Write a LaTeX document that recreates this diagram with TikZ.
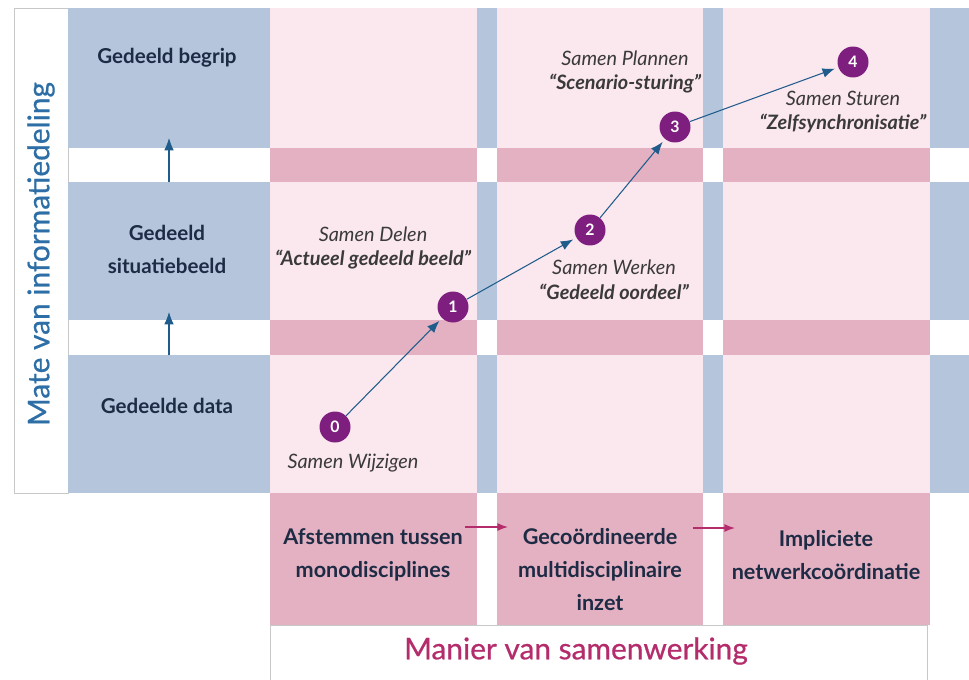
\documentclass[tikz,border=0pt]{standalone}
\usepackage{fontspec}
\setmainfont{Lato}
\newfontfamily\axisfont[FakeBold=0.6]{Lato}
\usetikzlibrary{arrows.meta}

\definecolor{cellblue}{HTML}{B5C6DC}
\definecolor{lightpink}{HTML}{FBE7EE}
\definecolor{darkpink}{HTML}{E3B1C2}
\definecolor{axisblue}{HTML}{2C6EA5}
\definecolor{axisrose}{HTML}{B42C6B}
\definecolor{arrowblue}{HTML}{1F5C8C}
\definecolor{stepviolet}{HTML}{7E1F7F}
\definecolor{labelnavy}{HTML}{1E2B45}
\definecolor{modegray}{HTML}{3A3A3A}
\definecolor{framegray}{HTML}{C8C8C8}

\tikzset{
    bluecell/.style={fill=cellblue, minimum width=4.04cm, inner sep=0pt, outer sep=0pt},
    pinkcell/.style={fill=darkpink, minimum height=2.64cm, inner sep=0pt, outer sep=0pt},
    level/.style={font=\bfseries\fontsize{11.7}{18.8}\selectfont, text=labelnavy, align=center},
    way/.style={font=\bfseries\fontsize{12.3}{18.8}\selectfont, text=labelnavy, align=center},
    mode/.style={font=\itshape\fontsize{11.3}{14}\selectfont, text=modegray, align=center},
    stepdot/.style={circle, fill=stepviolet, minimum size=0.62cm, inner sep=0pt, text=white, font=\bfseries\small},
    climb/.style={draw=arrowblue, line width=0.6pt, -{Latex[length=7pt,width=5.5pt]}, shorten >=2pt},
    push/.style={draw=axisrose, line width=0.8pt, -{Latex[length=6pt,width=4.5pt]}},
}

\begin{document}
\begin{tikzpicture}[x=0.02cm, y=-0.02cm]
    \useasboundingbox (0,0) rectangle (969,679);

    % axis frames
    \draw[framegray, fill=white] (14,8) rectangle (68,493);
    \draw[framegray, fill=white] (270,625) rectangle (927,690);
    \node (mate) [rotate=90, text=axisblue, font=\axisfont\fontsize{17}{20}\selectfont] at (41,254) {Mate van informatiedeling};
    \node (manier) [text=axisrose, font=\axisfont\fontsize{17}{20}\selectfont] at (576,651) {Manier van samenwerking};

    % levels
    \node (begripcell) [bluecell, minimum height=2.8cm] at (169,78) {};
    \node (situatiecell) [bluecell, minimum height=2.76cm] at (169,251) {};
    \node (datacell) [bluecell, minimum height=2.76cm] at (169,424) {};

    \foreach \xa/\xb in {270/477, 497/703, 723/930} {
        \fill[lightpink] (\xa,8) rectangle (\xb,148);
        \fill[darkpink] (\xa,148) rectangle (\xb,182);
        \fill[lightpink] (\xa,182) rectangle (\xb,320);
        \fill[darkpink] (\xa,320) rectangle (\xb,355);
        \fill[lightpink] (\xa,355) rectangle (\xb,493);
    }
    \foreach \xa/\xb in {477/497, 703/723, 930/969} {
        \fill[cellblue] (\xa,8) rectangle (\xb,148);
        \fill[cellblue] (\xa,182) rectangle (\xb,320);
        \fill[cellblue] (\xa,355) rectangle (\xb,493);
    }

    \node (begrip) [level] at (167,58) {Gedeeld begrip};
    \node (situatie) [level] at (167,249) {Gedeeld\\situatiebeeld};
    \node (data) [level] at (167,406) {Gedeelde data};

    \draw[climb, shorten >=-0.2cm] (situatiecell.north) -- (begripcell.south);
    \draw[climb, shorten >=-0.16cm] (datacell.north) -- (situatiecell.south);

    % ways of working
    \node (cellA) [pinkcell, minimum width=4.14cm] at (373.5,559) {};
    \node (cellB) [pinkcell, minimum width=4.12cm] at (600,559) {};
    \node (cellC) [pinkcell, minimum width=4.14cm] at (826.5,559) {};

    \node (afstemmen) [way] at (373,555) {Afstemmen tussen\\monodisciplines};
    \node (gecoord) [way] at (600,570) {Gecoördineerde\\multidisciplinaire\\inzet};
    \node (impliciet) [way] at (826,555) {Impliciete\\netwerkcoördinatie};

    \draw[push] ([shift={(-12,-32)}]cellA.east) -- ([shift={(11,-32)}]cellB.west);
    \draw[push] ([shift={(-10,-31)}]cellB.east) -- ([shift={(12,-31)}]cellC.west);

    % steps
    \node (s0) [stepdot] at (335,427) {0};
    \node (s1) [stepdot] at (453,307) {1};
    \node (s2) [stepdot] at (590,230) {2};
    \node (s3) [stepdot] at (675,127) {3};
    \node (s4) [stepdot] at (853,62) {4};

    \draw[climb] (s0) -- (s1);
    \draw[climb] (s1) -- (s2);
    \draw[climb] (s2) -- (s3);
    \draw[climb] (s3) -- (s4);

    \node (wijzigen) [mode] at (353,463) {Samen Wijzigen};
    \node (delen) [mode] at (373,248) {Samen Delen\\\textbf{“Actueel gedeeld beeld”}};
    \node (werken) [mode] at (614,280) {Samen Werken\\\textbf{“Gedeeld oordeel”}};
    \node (plannen) [mode] at (625,72) {Samen Plannen\\\textbf{“Scenario-sturing”}};
    \node (sturen) [mode] at (843,112) {Samen Sturen\\\textbf{“Zelfsynchronisatie”}};
\end{tikzpicture}
\end{document}
